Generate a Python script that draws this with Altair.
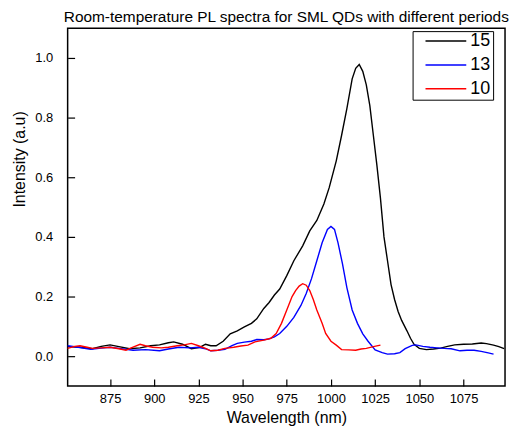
import altair as alt
import pandas as pd

# ---- data ----
wl_15 = [851, 858, 865, 870, 875, 880, 886, 892, 898, 903, 908, 911, 916, 921, 926, 929, 932, 935,
         939, 943, 947, 951, 955, 958, 962, 965, 968, 971, 975, 979, 984, 988, 992, 996, 999,
         1003, 1006, 1009, 1012, 1014, 1016, 1018, 1020, 1022, 1024, 1026, 1028, 1030, 1032,
         1034, 1036, 1038, 1040, 1043, 1045, 1047, 1050, 1054, 1058, 1062, 1066, 1070, 1075,
         1080, 1085, 1088, 1092, 1095, 1098]
int_15 = [0.032, 0.030, 0.025, 0.033, 0.038, 0.032, 0.025, 0.028, 0.035, 0.038, 0.045, 0.048, 0.040,
          0.025, 0.030, 0.040, 0.035, 0.035, 0.050, 0.075, 0.085, 0.098, 0.110, 0.125, 0.160,
          0.180, 0.205, 0.225, 0.270, 0.320, 0.370, 0.420, 0.455, 0.510, 0.565, 0.655, 0.740,
          0.830, 0.930, 0.965, 0.978, 0.955, 0.910, 0.840, 0.740, 0.640, 0.530, 0.400, 0.320,
          0.240, 0.190, 0.150, 0.120, 0.085, 0.060, 0.040, 0.026, 0.022, 0.024, 0.027, 0.033,
          0.038, 0.040, 0.041, 0.044, 0.042, 0.037, 0.032, 0.025]

wl_13 = [851, 857, 864, 870, 875, 880, 888, 895, 903, 908, 914, 920, 925, 929, 932, 936, 940, 944,
         947, 951, 955, 958, 962, 965, 968, 971, 975, 979, 983, 986, 989, 992, 995, 998, 1000,
         1002, 1004, 1006.5, 1009, 1012, 1015, 1018, 1021, 1025, 1029, 1032, 1036, 1039, 1042,
         1046, 1048, 1052, 1056, 1060, 1064, 1068, 1073, 1077, 1081, 1085, 1089, 1092]
int_13 = [0.035, 0.030, 0.023, 0.027, 0.030, 0.026, 0.020, 0.022, 0.018, 0.024, 0.030, 0.028, 0.030,
          0.025, 0.018, 0.020, 0.023, 0.035, 0.043, 0.047, 0.050, 0.056, 0.055, 0.058, 0.065,
          0.076, 0.100, 0.130, 0.170, 0.210, 0.260, 0.320, 0.380, 0.425, 0.435, 0.425, 0.380,
          0.310, 0.230, 0.155, 0.110, 0.075, 0.050, 0.021, 0.012, 0.007, 0.008, 0.012, 0.025,
          0.036, 0.038, 0.033, 0.030, 0.028, 0.026, 0.025, 0.018, 0.020, 0.020, 0.016, 0.011,
          0.007]

wl_10 = [851, 855, 858, 862, 865, 870, 875, 880, 884, 888, 892, 895, 899, 904, 908, 913, 917, 921,
         925, 929, 932, 936, 940, 945, 949, 953, 957, 962, 966, 969, 972, 975, 978, 980, 982,
         984, 986, 988, 990, 992, 995, 997, 1000, 1003, 1006, 1010, 1014, 1017, 1020, 1024, 1028]
int_10 = [0.026, 0.033, 0.035, 0.030, 0.026, 0.028, 0.030, 0.025, 0.020, 0.030, 0.040, 0.035, 0.030,
          0.028, 0.030, 0.035, 0.038, 0.043, 0.035, 0.026, 0.018, 0.020, 0.026, 0.030, 0.034,
          0.037, 0.048, 0.054, 0.060, 0.076, 0.110, 0.155, 0.200, 0.220, 0.235, 0.243, 0.238,
          0.220, 0.190, 0.155, 0.110, 0.076, 0.050, 0.037, 0.022, 0.021, 0.020, 0.024, 0.026,
          0.032, 0.037]

series_names = ["15", "13", "10"]
series_colors = ["#000000", "#0000ff", "#ff0000"]

x_major = [875, 900, 925, 950, 975, 1000, 1025, 1050, 1075]
y_major = [0.0, 0.2, 0.4, 0.6, 0.8, 1.0]
X_DOMAIN = [851, 1098.5]
Y_DOMAIN = [-0.1, 1.1]

W, H = 440, 360

rows = []
for name, wl, iv in zip(series_names, [wl_15, wl_13, wl_10], [int_15, int_13, int_10]):
    for w, v in zip(wl, iv):
        rows.append({"series": name, "x": w, "y": v})
df = pd.DataFrame(rows)

FONT = "Liberation Sans"
NBSP = "\u00a0"


def build(inward):
    if inward:
        tsize = alt.ExprRef(expr="-7")
        lp_x, lp_y = 14, 22
    else:
        tsize = 5
        lp_x, lp_y = 2, 10
    return alt.Chart(df).mark_line(strokeWidth=1.4).encode(
        x=alt.X("x:Q", scale=alt.Scale(domain=X_DOMAIN, nice=False, zero=False),
                axis=alt.Axis(orient="bottom", values=x_major, format="d", ticks=True,
                              tickSize=tsize, tickColor="black", tickWidth=1.2,
                              domain=False, grid=False, labelPadding=lp_x, labelFontSize=13,
                              title="Wavelength (nm)", titleFontSize=16,
                              titleFontWeight="normal", titlePadding=4)),
        y=alt.Y("y:Q", scale=alt.Scale(domain=Y_DOMAIN, nice=False, zero=False),
                axis=alt.Axis(orient="left", values=y_major, format=".1f", ticks=True,
                              tickSize=tsize, tickColor="black", tickWidth=1.2,
                              domain=False, grid=False, labelPadding=lp_y, labelFontSize=13,
                              title="Intensity (a.u)", titleFontSize=16,
                              titleFontWeight="normal", titlePadding=7, titleAlign="left")),
        color=alt.Color("series:N",
                        scale=alt.Scale(domain=series_names, range=series_colors),
                        legend=alt.Legend(title=None, orient="none", legendX=347, legendY=3,
                                          symbolType="stroke", symbolSize=1681,
                                          symbolStrokeWidth=1.5, labelFontSize=18,
                                          labelFont=FONT, clipHeight=16, rowPadding=6,
                                          padding=2, symbolOffset=10, labelOffset=3,
                                          strokeColor="black", fillColor="white",
                                          labelExpr="datum.label + '" + NBSP * 2 + "'")),
    ).properties(
        width=W, height=H,
        title=alt.TitleParams("Room-temperature PL spectra for SML QDs with different periods",
                              fontSize=15.5, fontWeight="normal", font=FONT, anchor="middle",
                              offset=3, color="black"),
        padding={"left": 3, "top": 0, "right": 0, "bottom": 0},
    ).configure_view(stroke="black", strokeWidth=1.5).configure_axis(
        labelFont=FONT, titleFont=FONT, labelColor="black", titleColor="black"
    )


try:
    chart = build(True)
    chart.to_dict()
except Exception:
    chart = build(False)

chart.save("out.html", embed_options={"renderer": "svg", "actions": False})
